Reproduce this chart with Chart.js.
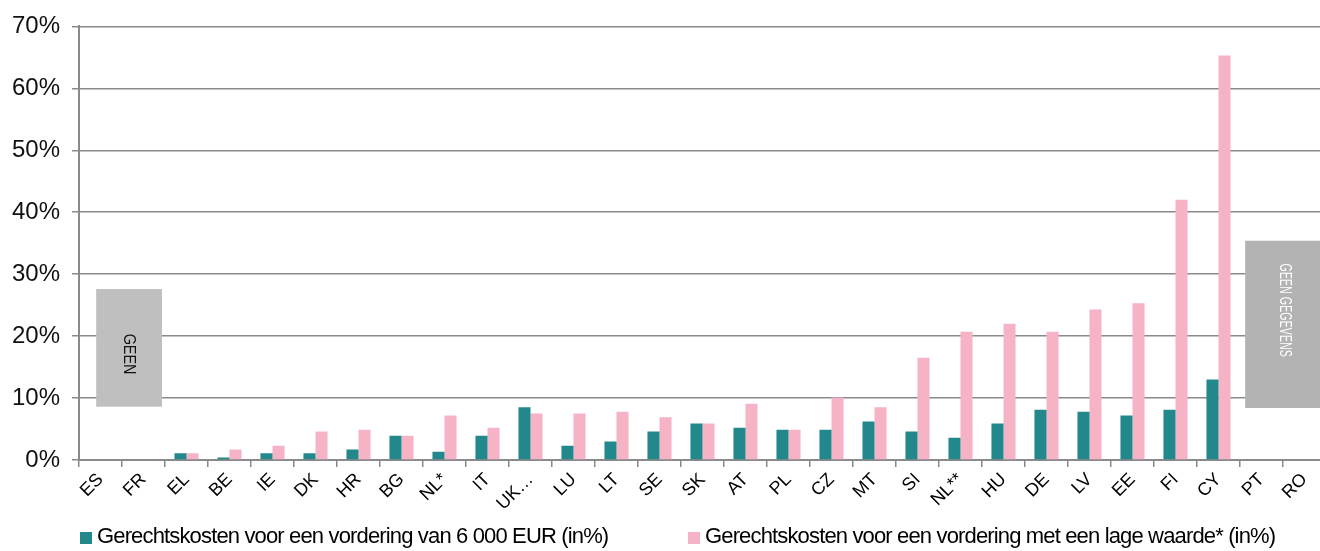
<!DOCTYPE html>
<html>
<head>
<meta charset="utf-8">
<script src="https://cdn.jsdelivr.net/npm/chart.js@4"></script>
<style>
  html,body{ margin:0; padding:0; background:#fff; overflow:hidden; }
  #wrap{ position:relative; width:1330px; height:551px; }
  .leg{ position:absolute; top:525px; font:22px "Liberation Sans", Arial, sans-serif; line-height:22px; letter-spacing:-0.85px; color:#000; white-space:nowrap; }
  .leg i{ position:absolute; top:7px; width:12px; height:12px; }
</style>
</head>
<body>
<div id="wrap">
  <canvas id="c"></canvas>
  <div id="legend"></div>
</div>
<script>
// data
const categories = ['ES','FR','EL','BE','IE','DK','HR','BG','NL*','IT','UK…','LU','LT','SE','SK','AT','PL','CZ','MT','SI','NL**','HU','DE','LV','EE','FI','CY','PT','RO'];
const cost6000 = [null,null,1.1,0.4,1.1,1.1,1.7,3.9,1.35,3.9,8.5,2.3,3.0,4.6,5.9,5.2,4.9,4.9,6.2,4.6,3.6,5.9,8.1,7.8,7.2,8.1,13.0,null,null];
const costLow  = [null,null,1.1,1.7,2.3,4.6,4.9,3.9,7.2,5.2,7.5,7.5,7.8,6.9,5.9,9.1,4.9,10.1,8.5,16.5,20.7,22.0,20.7,24.3,25.3,42.0,65.3,null,null];
const seriesLabels = ['Gerechtskosten voor een vordering van 6 000 EUR (in%)', 'Gerechtskosten voor een vordering met een lage waarde* (in%)'];
const yTicks = [0,10,20,30,40,50,60,70];

// grey "no data" boxes, in category index / % units
const noDataBoxes = [
  { from:-0.1, to:1.43, yMin:8.6, yMax:27.6, fill:'#bfbfbf', text:'GEEN', color:'#111', tx:0.66, ty:17.1, size:16, sx:0.9 },
  { from:26.62, to:28.8, yMin:8.4, yMax:35.4, fill:'#b3b3b3', text:'GEEN GEGEVENS', color:'#fff', tx:27.55, ty:24.2, size:17, sx:0.63 }
];

const TEAL = '#22888c', PINK = '#f5b3c5', GRID = '#8a8a8a';

const boxPlugin = {
  id:'noData',
  beforeDatasetsDraw(chart){
    const {ctx, scales:{x,y}} = chart;
    noDataBoxes.forEach(b=>{
      const l = x.getPixelForValue(b.from), r = x.getPixelForValue(b.to);
      const t = y.getPixelForValue(b.yMax), btm = y.getPixelForValue(b.yMin);
      ctx.save();
      ctx.fillStyle = b.fill;
      ctx.fillRect(l, t, r-l, btm-t);
      ctx.translate(x.getPixelForValue(b.tx), y.getPixelForValue(b.ty));
      ctx.rotate(Math.PI/2);
      ctx.scale(b.sx, 1);
      ctx.font = b.size+'px "Liberation Sans", Arial, sans-serif';
      ctx.fillStyle = b.color;
      ctx.textAlign = 'center';
      ctx.textBaseline = 'middle';
      ctx.fillText(b.text, 0, 0);
      ctx.restore();
    });
  }
};

const chart = new Chart(document.getElementById('c'), {
  type:'bar',
  data:{
    labels: categories,
    datasets:[
      { label:seriesLabels[0], data:cost6000, backgroundColor:TEAL, categoryPercentage:0.56, barPercentage:1 },
      { label:seriesLabels[1], data:costLow,  backgroundColor:PINK, categoryPercentage:0.56, barPercentage:1 }
    ]
  },
  options:{
    responsive:true,
    maintainAspectRatio:false,
    animation:false,
    layout:{ padding:{ top:26, right:4, bottom:31, left:0 } },
    plugins:{ legend:{ display:false }, tooltip:{ enabled:false } },
    scales:{
      x:{
        offset:true,
        grid:{ display:true, drawOnChartArea:false, drawTicks:true, tickLength:7, offset:true, color:GRID, lineWidth:1.5 },
        border:{ display:true, color:GRID, width:2 },
        ticks:{ minRotation:45, maxRotation:45, autoSkip:false, padding:2, color:'#000', font:{ family:'"Liberation Sans", Arial, sans-serif', size:18 } },
        afterFit(s){ s.height = 60; }
      },
      y:{
        min:0, max:70,
        afterBuildTicks(s){ s.ticks = yTicks.map(v=>({ value:v })); },
        grid:{ color:GRID, lineWidth:1.5, tickLength:7 },
        border:{ display:true, color:GRID, width:2 },
        ticks:{ padding:12, color:'#111', font:{ family:'"Liberation Sans", Arial, sans-serif', size:24 }, callback:v=>v+'%' },
        afterFit(s){ s.width = 79; }
      }
    }
  },
  plugins:[boxPlugin]
});

// html legend built from the datasets
const legendPos = [80, 688];
document.getElementById('legend').innerHTML = chart.data.datasets.map((d,i)=>
  `<div class="leg" style="left:${legendPos[i]}px;padding-left:17px"><i style="left:0;background:${d.backgroundColor}"></i>${d.label}</div>`
).join('');
</script>
</body>
</html>
